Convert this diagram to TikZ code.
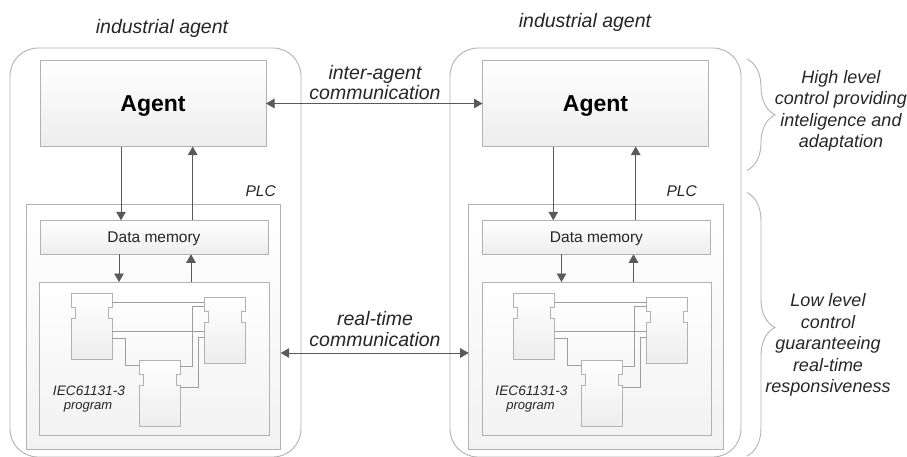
\documentclass[tikz,border=0pt]{standalone}
\usepackage{fontspec}
\setmainfont{Liberation Sans}
\usetikzlibrary{arrows.meta}
\usetikzlibrary{calc}
\usetikzlibrary{decorations.pathreplacing}

\begin{document}
\begin{tikzpicture}[x=1pt, y=-1pt,
    %Option for nice arrows
    >={Triangle[length=8.5pt,width=9.5pt]}, %
    inner sep=0pt, outer sep=0pt,%
    frame/.style={draw=framegray, line width=0.9pt},
    outerbox/.style={frame, rounded corners=28pt, fill=white, minimum width=291pt, minimum height=409pt},
    agentbox/.style={frame, top color=white, bottom color=boxgray, minimum width=226pt, minimum height=86pt},
    plcbox/.style={frame, top color=white, bottom color=panelgray, minimum width=254.5pt, minimum height=245pt},
    membox/.style={frame, top color=white, bottom color=boxgray, minimum width=228pt, minimum height=34pt},
    progbox/.style={frame, top color=white, bottom color=panelgray, minimum width=229.5pt, minimum height=153pt},
    fblock/.style={minimum width=41pt, minimum height=66pt},
    wire/.style={draw=wiregray, line width=0.8pt},
    link/.style={draw=linkgray, line width=0.8pt, ->, color=linkgray},
    biglink/.style={draw=linkgray, line width=0.8pt, <->},
    curly/.style={draw=framegray, line width=0.9pt, decorate},
    note/.style={font=\fontsize{18}{21.5}\selectfont\itshape, align=center, text=textgray},
    head/.style={font=\fontsize{19.5}{19.5}\selectfont\itshape, align=center, text=textgray},
]
    % Colors
    \colorlet{framegray}{black!30}
    \colorlet{boxgray}{black!7}
    \colorlet{panelgray}{black!5}
    \colorlet{wiregray}{black!38}
    \colorlet{linkgray}{black!65}
    \colorlet{textgray}{black!85}

    \useasboundingbox (0,0) rectangle (907,456);

    % Both industrial agents
    \foreach \s/\dx/\ty/\tx/\px/\ox/\dnx/\upx in {L/0/28.5/162/260.7/155.5/121/192.7, R/442.5/22.5/142.5/239.2/153/553.3/635.7}{
        \begin{scope}[xshift=\dx pt]
            \node[outerbox] (outer\s) at (\ox,252.5) {};
            \node[head] (title\s) at (\tx,\ty) {industrial agent};

            \node[agentbox, font=\fontsize{23}{23}\selectfont\bfseries, text height=20pt, text depth=5pt] (agent\s) at (153,103.5) {Agent};
            \node[plcbox] (plc\s) at (153.4,326.5) {};
            \node[font=\fontsize{15.5}{15.5}\selectfont\itshape, text=textgray] (plclabel\s) at (\px,191.5) {PLC};
            \node[membox, font=\fontsize{15.5}{15.5}\selectfont, text=textgray, text height=13.6pt, text depth=3pt] (mem\s) at (154,237.3) {Data memory};
            \node[progbox] (prog\s) at (154.5,358.5) {};

            % Function blocks
            \node[fblock] (blockA\s) at (91.5,326) {};
            \node[fblock] (blockB\s) at (224.5,330) {};
            \node[fblock] (blockC\s) at (159.5,393) {};
            \foreach \b in {blockA\s, blockB\s, blockC\s}{
                \draw[frame, top color=white, bottom color=boxgray]
                    (\b.north west) -- ++(41,0) -- ++(0,14) -- ++(-4,0) -- ++(0,11) -- ++(4,0)
                    -- (\b.south east) -- (\b.south west) -- ++(0,-41) -- ++(4,0) -- ++(0,-11)
                    -- ++(-4,0) -- cycle;
            }

            % Wires between the blocks
            \draw[wire] ([yshift=-9pt]blockA\s.north east) -- ([yshift=-5pt]blockB\s.north west);
            \draw[wire] ([yshift=-38pt]blockA\s.north east) -- ([yshift=-34pt]blockB\s.north west);
            \draw[wire] ([yshift=-45pt]blockA\s.north east) -- ++(13,0) |- ([yshift=-5pt]blockC\s.north west);
            \draw[wire] ([yshift=-6pt]blockC\s.north east) -- ++(12,0) |- ([yshift=-9pt]blockB\s.north west);
            \draw[wire] ([yshift=-27pt]blockC\s.north east) -- ++(18,0) |- ([yshift=-40pt]blockB\s.north west);

            \node[font=\fontsize{13.7}{13.7}\selectfont\itshape, text=textgray, align=center] (proglabel\s) at (89,390.5) {IEC61131-3};
            \node[font=\fontsize{13}{13}\selectfont\itshape, text=textgray, align=center] (progname\s) at (88,407.5) {program};
        \end{scope}

        %Agent and memory, program and memory
        \coordinate (dn\s) at (\dnx,0);
        \coordinate (up\s) at (\upx,0);
        \draw[link] (agent\s.south -| dn\s) -- (mem\s.north -| dn\s);
        \draw[link] (mem\s.north -| up\s) -- (agent\s.south -| up\s);
        \coordinate (pdn\s) at ($(mem\s.center)+(-35,0)$);
        \coordinate (pup\s) at ($(mem\s.center)+(37,0)$);
        \draw[link] (mem\s.south -| pdn\s) -- (prog\s.north -| pdn\s);
        \draw[link] (prog\s.north -| pup\s) -- (mem\s.south -| pup\s);
    }

    % Communication between the agents
    \draw[biglink] (agentL.east) -- (agentR.west);
    \node[head, font=\fontsize{19.5}{19.5}\selectfont\itshape] (interlabel) at (375,82.5) {inter-agent\\communication};
    \coordinate (rtL) at (0,353);
    \draw[biglink] (plcL.east |- rtL) -- (plcR.west |- rtL);
    \node[head, font=\fontsize{19.5}{21}\selectfont\itshape] (rtlabel) at (375,329) {real-time\\communication};

    % Levels
    \coordinate (hightop) at (747,59);
    \coordinate (highbot) at (747,170.5);
    \coordinate (lowtop) at (747,192.5);
    \coordinate (lowbot) at (747,456);
    \draw[curly, decoration={brace, amplitude=28pt}] (hightop) -- (highbot);
    \draw[curly, decoration={brace, amplitude=28pt, aspect=0.512}] (lowtop) -- (lowbot);
    \node[note] (highlabel) at (841,111) {High level\\control providing\\inteligence and\\adaptation};
    \node[note] (lowlabel) at (828,345) {Low level\\control\\guaranteeing\\real-time\\responsiveness};
\end{tikzpicture}
\end{document}
